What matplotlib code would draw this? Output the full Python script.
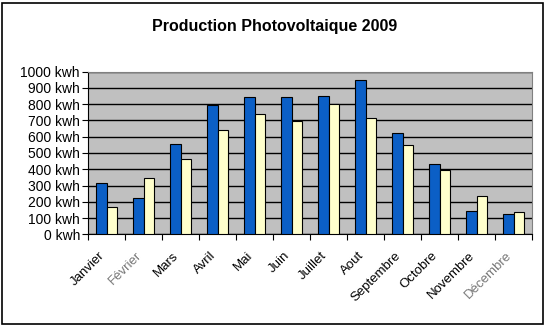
import matplotlib.pyplot as plt
import matplotlib.transforms as mtransforms
from matplotlib.patches import Rectangle
from matplotlib.ticker import FuncFormatter, MultipleLocator
import numpy as np

plt.rcParams['font.family'] = ['Liberation Sans', 'DejaVu Sans']

# monthly production (kWh)
mois = ["Janvier", "Février", "Mars", "Avril", "Mai", "Juin", "Juillet",
        "Aout", "Septembre", "Octobre", "Novembre", "Décembre"]
serie_a = [313, 221, 553, 795, 842, 842, 848, 947, 621, 430, 141, 123]
serie_b = [166, 344, 461, 639, 738, 697, 799, 713, 547, 395, 236, 135]

W, H = 549, 330
fig = plt.figure(figsize=(W / 100, H / 100), dpi=100)

# outer chart border
fig.patches.append(Rectangle((1.5 / W, 6.5 / H), 541 / W, 321 / H,
                             transform=fig.transFigure, fill=False,
                             edgecolor='black', linewidth=1.2))

ax = fig.add_axes([88.3 / W, (H - 234.3) / H, 444 / W, 162.6 / H])
ax.set_facecolor('#C0C0C0')

x = np.arange(len(mois))
w = 0.28
ax.bar(x - w / 2, serie_a, w, color='#0B5FC6', edgecolor='black', linewidth=0.8, zorder=3)
ax.bar(x + w / 2, serie_b, w, color='#FFFFCC', edgecolor='black', linewidth=0.8, zorder=3)

ax.set_xlim(-0.5, len(mois) - 0.5)
ax.set_ylim(0, 1000)
ax.yaxis.set_major_locator(MultipleLocator(100))
ax.yaxis.set_major_formatter(FuncFormatter(lambda v, p: f"{int(v)} kwh"))
ax.grid(axis='y', color='black', linewidth=1, zorder=1)

# category ticks sit between groups, labels at centres
ax.set_xticks(np.arange(len(mois) + 1) - 0.5)
ax.set_xticklabels([])
ax.set_xticks(x, minor=True)
ax.set_xticklabels(mois, minor=True, rotation=45, ha='right',
                   rotation_mode='anchor', fontsize=9.5)
ax.tick_params(axis='x', which='minor', length=0, pad=11)
ax.tick_params(axis='x', which='major', length=4, direction='out')
ax.tick_params(axis='y', labelsize=10, length=4, pad=2)
shift = mtransforms.ScaledTranslation(-6 / 72, 0, fig.dpi_scale_trans)
for lab in ax.get_xticklabels(minor=True):
    lab.set_transform(lab.get_transform() + shift)
    if lab.get_text() in ("Février", "Décembre"):
        lab.set_color('#777777')

for s in ['top', 'right']:
    ax.spines[s].set_color('#808080')
ax.spines['left'].set_color('black')
ax.spines['bottom'].set_color('black')

fig.text(275 / W, 1 - 27 / H, "Production Photovoltaique 2009", ha='center',
         va='center', fontsize=11.5, fontweight='bold')

fig.savefig('out.png', dpi=100)
